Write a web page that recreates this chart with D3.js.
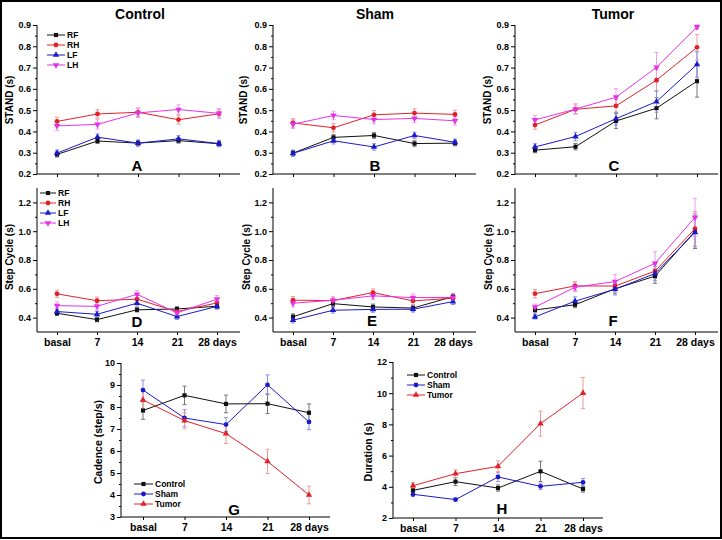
<!DOCTYPE html>
<html><head><meta charset="utf-8">
<script src="https://cdn.jsdelivr.net/npm/d3@7"></script>
<style>
body{margin:0;background:#fff;}
svg{display:block;font-family:"Liberation Sans",Arial,sans-serif;font-weight:bold;}
</style></head>
<body><svg id="c" width="722" height="540"></svg>
<script>
// ---------- DATA ----------
const days = ["basal","7","14","21","28 days"];
const limbs = ["RF","RH","LF","LH"];
const groups = ["Control","Sham","Tumor"];
const standTicks = [0.3,0.4,0.5,0.6,0.7,0.8,0.9];
const cycleTicks = [0.4,0.6,0.8,1.0,1.2];
const cadenceTicks = [3,4,5,6,7,8,9,10];
const durationTicks = [2,4,6,8,10,12];

// STAND (s) - Control
const standCtrlRF = [0.292,0.355,0.345,0.357,0.342];
const standCtrlRH = [0.447,0.482,0.490,0.455,0.483];
const standCtrlLF = [0.298,0.373,0.345,0.365,0.343];
const standCtrlLH = [0.426,0.433,0.487,0.503,0.485];
// STAND (s) - Sham
const standShamRF = [0.298,0.372,0.381,0.343,0.345];
const standShamRH = [0.440,0.417,0.478,0.486,0.480];
const standShamLF = [0.297,0.356,0.327,0.381,0.349];
const standShamLH = [0.434,0.475,0.456,0.461,0.450];
// STAND (s) - Tumor
const standTumRF = [0.312,0.328,0.449,0.509,0.636];
const standTumRH = [0.430,0.504,0.520,0.641,0.795];
const standTumLF = [0.327,0.376,0.460,0.540,0.715];
const standTumLH = [0.454,0.505,0.561,0.701,0.891];
// STAND errors
const standCtrlErr = [0.012,0.020,0.015,0.022];
const standShamErr = [0.013,0.020,0.015,0.020];
const standTumErrRF = [0.012,0.015,0.035,0.050,0.075];
const standTumErrRH = [0.020,0.020,0.030,0.050,0.060];
const standTumErrLF = [0.015,0.020,0.030,0.050,0.060];
const standTumErrLH = [0.020,0.025,0.040,0.070,0.010];

// Step Cycle (s) - Control
const cycleCtrlRF = [0.430,0.386,0.454,0.460,0.479];
const cycleCtrlRH = [0.565,0.517,0.528,0.442,0.502];
const cycleCtrlLF = [0.442,0.423,0.500,0.407,0.478];
const cycleCtrlLH = [0.483,0.478,0.562,0.433,0.528];
// Step Cycle (s) - Sham
const cycleShamRF = [0.406,0.497,0.474,0.466,0.546];
const cycleShamRH = [0.521,0.518,0.574,0.516,0.535];
const cycleShamLF = [0.382,0.451,0.457,0.458,0.511];
const cycleShamLH = [0.500,0.520,0.551,0.539,0.540];
// Step Cycle (s) - Tumor
const cycleTumRF = [0.453,0.489,0.600,0.688,1.000];
const cycleTumRH = [0.566,0.620,0.619,0.723,1.017];
const cycleTumLF = [0.405,0.514,0.597,0.706,0.992];
const cycleTumLH = [0.473,0.611,0.650,0.777,1.096];
// Step Cycle errors
const cycleCtrlErr = [0.015,0.025,0.020,0.025];
const cycleShamErr = [0.020,0.025,0.020,0.025];
const cycleTumErrRF = [0.020,0.020,0.030,0.050,0.120];
const cycleTumErrRH = [0.030,0.030,0.040,0.050,0.120];
const cycleTumErrLF = [0.015,0.030,0.040,0.050,0.100];
const cycleTumErrLH = [0.020,0.030,0.050,0.080,0.130];

// Cadence (step/s)
const cadenceControl = [7.84,8.53,8.14,8.15,7.74];
const cadenceSham    = [8.77,7.50,7.20,9.01,7.32];
const cadenceTumor   = [8.32,7.38,6.79,5.53,4.00];
const cadenceErrControl = [0.40,0.42,0.40,0.45,0.40];
const cadenceErrSham    = [0.45,0.38,0.32,0.45,0.35];
const cadenceErrTumor   = [0.40,0.35,0.45,0.55,0.40];

// Duration (s)
const durationControl = [3.77,4.33,3.92,4.99,3.86];
const durationSham    = [3.52,3.18,4.63,4.03,4.29];
const durationTumor   = [4.07,4.84,5.31,8.05,10.01];
const durationErrControl = [0.15,0.25,0.20,0.65,0.20];
const durationErrSham    = [0.15,0.10,0.30,0.20,0.25];
const durationErrTumor   = [0.20,0.25,0.35,0.80,1.00];

// ---------- STYLE ----------
const colLine = {black:"#111111", red:"#e3202a", blue:"#1a1acc", magenta:"#e632e6"};
const colErr  = {black:"#777777", red:"#ee9a9a", blue:"#8f8fe6", magenta:"#ef9cef"};
const limbStyle = {
  RF:{c:"black", s:"square"}, RH:{c:"red", s:"circle"},
  LF:{c:"blue", s:"triangle"}, LH:{c:"magenta", s:"down"}
};
const groupStyle = {
  Control:{c:"black", s:"square"}, Sham:{c:"blue", s:"circle"}, Tumor:{c:"red", s:"triangle"}
};

const svg = d3.select("#c");
svg.append("rect").attr("x",1).attr("y",1).attr("width",720).attr("height",537)
  .attr("fill","#fff").attr("stroke","#000").attr("stroke-width",2);

function sym(type){
  if(type==="square") return d3.symbol(d3.symbolSquare,17)();
  if(type==="circle") return d3.symbol(d3.symbolCircle,18)();
  return d3.symbol(d3.symbolTriangle,18)();
}

function panel(o){
  const g = svg.append("g");
  const x = d3.scalePoint().domain(days).range([o.x0+o.pl, o.x0+o.w-o.pr]);
  const y = d3.scaleLinear().domain(o.dom).range([o.yb, o.yt]);
  // axes
  const ya = d3.axisLeft(y).tickValues(o.ticks).tickSize(4).tickPadding(2)
     .tickFormat(o.fmt);
  const yg = g.append("g").attr("transform",`translate(${o.x0},0)`).call(ya);
  yg.select(".domain").remove();
  g.append("line").attr("x1",o.x0).attr("x2",o.x0).attr("y1",o.yb).attr("y2",o.yt)
    .attr("stroke","#000").attr("stroke-width",1);
  yg.selectAll("text").attr("font-size",9).attr("font-weight","bold").attr("fill","#000")
    .attr("font-family","Liberation Sans, Arial, sans-serif");
  // minor ticks
  const ym = d3.axisLeft(y).tickValues(o.minor).tickSize(2).tickFormat("");
  const ymg = g.append("g").attr("transform",`translate(${o.x0},0)`).call(ym);
  ymg.select(".domain").remove();
  // x axis
  const xa = d3.axisBottom(x).tickSize(3).tickPadding(4).tickFormat(o.xlabels ? (d=>d) : "");
  const xg = g.append("g").attr("transform",`translate(0,${o.yb})`).call(xa);
  xg.select(".domain").remove();
  g.append("line").attr("x1",o.x0).attr("x2",o.x0+o.w).attr("y1",o.yb).attr("y2",o.yb)
    .attr("stroke","#000").attr("stroke-width",1);
  xg.selectAll("text").attr("font-size",10.5).attr("font-weight","bold").attr("fill","#000")
    .attr("font-family","Liberation Sans, Arial, sans-serif");
  // y label
  g.append("text").attr("transform",`translate(${o.ylx},${o.yly}) rotate(-90)`)
    .attr("text-anchor","middle").attr("dominant-baseline","central")
    .attr("font-size",o.ylsize||10).text(o.ylabel);
  // series: error bars first
  o.series.forEach(s=>{
    const eg = g.append("g");
    s.values.forEach((v,i)=>{
      const e = s.err[i], cx = x(days[i]);
      eg.append("line").attr("x1",cx).attr("x2",cx).attr("y1",y(v-e)).attr("y2",y(v+e))
        .attr("stroke",colErr[s.c]).attr("stroke-width",1);
      [v-e,v+e].forEach(w=>eg.append("line").attr("x1",cx-2).attr("x2",cx+2)
        .attr("y1",y(w)).attr("y2",y(w)).attr("stroke",colErr[s.c]).attr("stroke-width",1));
    });
  });
  o.series.forEach(s=>{
    const line = d3.line().x((d,i)=>x(days[i])).y(d=>y(d));
    g.append("path").attr("d",line(s.values)).attr("fill","none")
      .attr("stroke",colLine[s.c]).attr("stroke-width",1);
    g.selectAll(null).data(s.values).enter().append("path")
      .attr("d",sym(s.s))
      .attr("transform",(d,i)=>`translate(${x(days[i])},${y(d)})${s.s==="down"?" rotate(180)":""}`)
      .attr("fill",colLine[s.c]);
  });
  // legend
  if(o.legend){
    o.series.forEach((s,i)=>{
      const ly = o.legend.y + i*o.legend.dy;
      g.append("line").attr("x1",o.legend.x).attr("x2",o.legend.x+o.legend.len)
        .attr("y1",ly).attr("y2",ly).attr("stroke",colLine[s.c]).attr("stroke-width",1);
      g.append("path").attr("d",sym(s.s))
        .attr("transform",`translate(${o.legend.x+o.legend.len/2},${ly})${s.s==="down"?" rotate(180)":""}`)
        .attr("fill",colLine[s.c]);
      g.append("text").attr("x",o.legend.x+o.legend.len+2).attr("y",ly)
        .attr("dominant-baseline","central").attr("font-size",8.5).text(s.name);
    });
  }
  // panel letter
  g.append("text").attr("x",o.lx).attr("y",o.ly).attr("text-anchor","middle")
    .attr("dominant-baseline","central").attr("font-size",15).text(o.letter);
  if(o.title){
    g.append("text").attr("x",o.tx).attr("y",14).attr("text-anchor","middle")
      .attr("dominant-baseline","central").attr("font-size",14).text(o.title);
  }
}

function limbSeries(vals, errs){
  return limbs.map((l,k)=>({name:l, c:limbStyle[l].c, s:limbStyle[l].s, values:vals[k],
    err: Array.isArray(errs[k]) ? errs[k] : vals[k].map(()=>errs[k])}));
}
function groupSeries(vals, errs){
  return groups.map((gname,k)=>({name:gname, c:groupStyle[gname].c, s:groupStyle[gname].s,
    values:vals[k], err:errs[k]}));
}

const f1 = d3.format(".1f");
const standMinor = d3.range(0.25,0.9,0.1).map(v=>+v.toFixed(2));
const cycleMinor = d3.range(0.5,1.3,0.2).map(v=>+v.toFixed(2));

const row1 = {dom:[0.2,0.9], yb:174, yt:25, ticks:[0.2].concat(standTicks), minor:standMinor,
  fmt:f1, w:203, pl:20, pr:21, ylabel:"STAND (s)", yly:100};
const row2 = {dom:[0.3,1.3], yb:332, yt:188, ticks:cycleTicks, minor:cycleMinor,
  fmt:f1, w:203, pl:20, pr:23, ylabel:"Step Cycle (s)", yly:257, xlabels:true};

panel(Object.assign({}, row1, {x0:37, ylx:9, letter:"A", lx:137, ly:165, title:"Control", tx:140,
  series:limbSeries([standCtrlRF,standCtrlRH,standCtrlLF,standCtrlLH], standCtrlErr),
  legend:{x:47, y:35, dy:10, len:18}}));
panel(Object.assign({}, row1, {x0:273, ylx:243, letter:"B", lx:375, ly:165, title:"Sham", tx:375,
  series:limbSeries([standShamRF,standShamRH,standShamLF,standShamLH], standShamErr)}));
panel(Object.assign({}, row1, {x0:515, ylx:487, letter:"C", lx:614, ly:165, title:"Tumor", tx:613,
  series:limbSeries([standTumRF,standTumRH,standTumLF,standTumLH],
    [standTumErrRF,standTumErrRH,standTumErrLF,standTumErrLH])}));

panel(Object.assign({}, row2, {x0:37, ylx:9, letter:"D", lx:137, ly:321,
  series:limbSeries([cycleCtrlRF,cycleCtrlRH,cycleCtrlLF,cycleCtrlLH], cycleCtrlErr),
  legend:{x:40, y:193, dy:10, len:16}}));
panel(Object.assign({}, row2, {x0:273, ylx:246, letter:"E", lx:372, ly:320,
  series:limbSeries([cycleShamRF,cycleShamRH,cycleShamLF,cycleShamLH], cycleShamErr)}));
panel(Object.assign({}, row2, {x0:515, ylx:488, letter:"F", lx:613, ly:320,
  series:limbSeries([cycleTumRF,cycleTumRH,cycleTumLF,cycleTumLH],
    [cycleTumErrRF,cycleTumErrRH,cycleTumErrLF,cycleTumErrLH])}));

panel({dom:[3,10], yb:517, yt:363, ticks:cadenceTicks,
  minor:d3.range(3.5,10,1), fmt:d3.format("d"), x0:121, w:209, pl:22, pr:21,
  ylabel:"Cadence (step/s)", ylx:98, yly:442, ylsize:10.5, xlabels:true,
  letter:"G", lx:234, ly:509,
  series:groupSeries([cadenceControl,cadenceSham,cadenceTumor],
    [cadenceErrControl,cadenceErrSham,cadenceErrTumor]),
  legend:{x:134, y:484, dy:10, len:19}});

panel({dom:[2,12], yb:518, yt:362, ticks:durationTicks,
  minor:[3,5,7,9,11], fmt:d3.format("d"), x0:393, w:210, pl:20, pr:20,
  ylabel:"Duration (s)", ylx:368, yly:452, ylsize:10.5, xlabels:true,
  letter:"H", lx:502, ly:508,
  series:groupSeries([durationControl,durationSham,durationTumor],
    [durationErrControl,durationErrSham,durationErrTumor]),
  legend:{x:407, y:375, dy:10, len:18}});
</script></body></html>
